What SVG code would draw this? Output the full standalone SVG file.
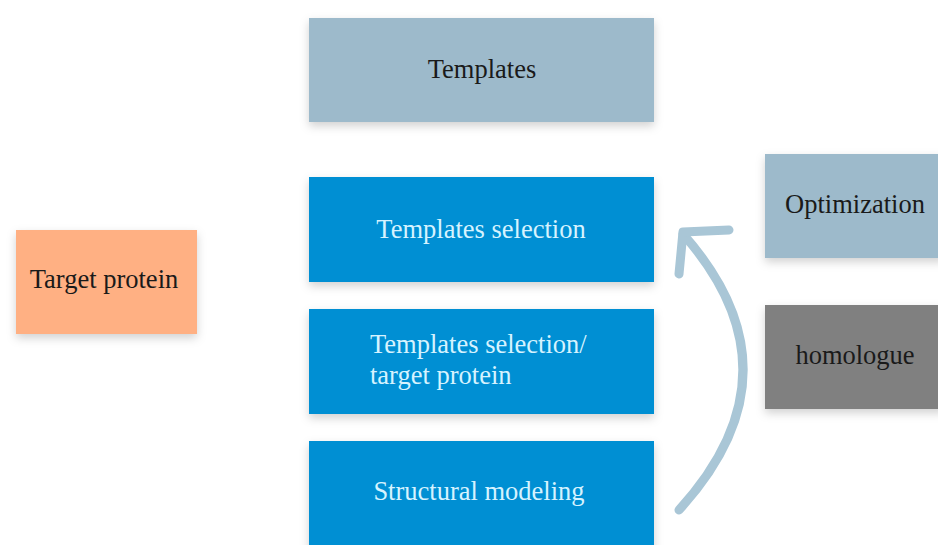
<svg xmlns="http://www.w3.org/2000/svg" width="938" height="545" viewBox="0 0 938 545" font-family="'Liberation Serif', 'DejaVu Serif', serif">
<defs>
<filter id="sh" x="-20%" y="-20%" width="140%" height="150%">
<feDropShadow dx="0" dy="4" stdDeviation="5" flood-color="#000" flood-opacity="0.18"/>
</filter>
</defs>
<style>
text{font-family:'Liberation Serif', 'DejaVu Serif', serif;font-size:26.5px;}
.dark{fill:#1a1a1a;}
.light{fill:#d6f3ff;}
.box{filter:url(#sh);}
</style>
<rect width="938" height="545" fill="#ffffff"/>
<g id="connectors">
<path d="M679,510 Q805,372 683,234" fill="none" stroke="#a9c6d6" stroke-width="9" stroke-linecap="round"/>
<path d="M729,230 L683,232 L679,274" fill="none" stroke="#a9c6d6" stroke-width="9" stroke-linecap="round" stroke-linejoin="round"/>
</g>
<g id="target-protein">
<rect class="box" x="16" y="230" width="181" height="104" fill="#ffb083"/>
<text class="dark" x="104" y="288" text-anchor="middle">Target protein</text>
</g>
<g id="templates">
<rect class="box" x="309" y="18" width="345" height="104" fill="#9dbacb"/>
<text class="dark" x="482" y="78" text-anchor="middle">Templates</text>
</g>
<g id="templates-selection">
<rect class="box" x="309" y="177" width="345" height="105" fill="#008fd3"/>
<text class="light" x="481" y="238" text-anchor="middle">Templates selection</text>
</g>
<g id="templates-selection-target">
<rect class="box" x="309" y="309" width="345" height="105" fill="#008fd3"/>
<text class="light" x="370" y="353">Templates selection/</text>
<text class="light" x="370" y="384">target protein</text>
</g>
<g id="structural-modeling">
<rect class="box" x="309" y="441" width="345" height="110" fill="#008fd3"/>
<text class="light" x="479" y="500" text-anchor="middle">Structural modeling</text>
</g>
<g id="optimization">
<rect class="box" x="765" y="154" width="180" height="104" fill="#9dbacb"/>
<text class="dark" x="855" y="213" text-anchor="middle">Optimization</text>
</g>
<g id="homologue">
<rect class="box" x="765" y="305" width="180" height="104" fill="#808080"/>
<text class="dark" x="855" y="364" text-anchor="middle">homologue</text>
</g>
</svg>
